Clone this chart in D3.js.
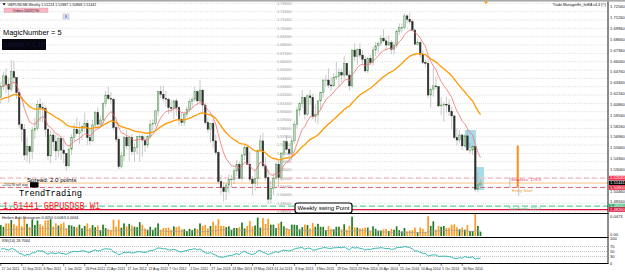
<!DOCTYPE html>
<html lang="en">
<head>
<meta charset="UTF-8" />
<title>GBPUSDSB Weekly</title>
<script src="https://d3js.org/d3.v7.min.js"></script>
<style>
  body { margin:0; padding:0; background:#fff; }
  svg { display:block; font-family:"Liberation Sans", Arial, sans-serif; }
</style>
</head>
<body>
<svg width="625" height="272"></svg>
<script>
// weekly bars, first bar = week of 17 Jul 2011, last = week of 18 Jan 2015
const firstOpen = 1.6170;
const closes = [
  1.6300,1.6430,1.6330,1.6270,1.6480,1.6410,1.6230,1.5850,1.5790,1.5480,
  1.5580,1.5520,1.5780,1.5800,1.6090,1.6050,1.6040,1.5790,1.5470,1.5720,
  1.5640,1.5530,1.5680,1.5540,1.5500,1.5350,1.5550,1.5690,1.5790,1.5740,
  1.5770,1.5820,1.5860,1.5690,1.5650,1.5840,1.5990,1.5850,1.5900,1.6100,
  1.6200,1.6160,1.6150,1.5810,1.5670,1.5340,1.5470,1.5690,1.5590,1.5690,
  1.5520,1.5570,1.5700,1.5700,1.5660,1.5600,1.5700,1.5850,1.5860,1.6010,
  1.6240,1.6210,1.6160,1.6150,1.6050,1.6040,1.6130,1.6050,1.5910,1.5870,
  1.5970,1.6030,1.6120,1.6150,1.6240,1.6130,1.6260,1.6080,1.5870,1.5790,
  1.5860,1.5650,1.5510,1.5160,1.5090,1.5040,1.5120,1.5190,1.5190,1.5290,
  1.5370,1.5200,1.5480,1.5570,1.5370,1.5190,1.5140,1.5200,1.5530,1.5650,
  1.5350,1.5210,1.4950,1.5080,1.5200,1.5370,1.5210,1.5500,1.5640,1.5550,
  1.5500,1.5650,1.5850,1.6020,1.6100,1.6170,1.5970,1.6190,1.6170,1.5940,
  1.5970,1.6130,1.6230,1.6380,1.6380,1.6320,1.6310,1.6410,1.6420,1.6470,
  1.6440,1.6580,1.6440,1.6310,1.6740,1.6660,1.6750,1.6680,1.6630,1.6490,
  1.6640,1.6590,1.6740,1.6790,1.6820,1.6880,1.6850,1.6800,1.6830,1.6750,
  1.6800,1.6960,1.7010,1.7010,1.7150,1.7110,1.7080,1.6980,1.6810,1.6830,
  1.6690,1.6590,1.6580,1.6200,1.6270,1.6310,1.6300,1.6070,1.6080,1.6090,
  1.6080,1.6000,1.5950,1.5690,1.5660,1.5720,1.5590,1.5710,1.5540,1.5540,
  1.5580,1.5070,1.51224,1.51441
];
const highs = [
  1.6360,1.6480,1.6520,1.6410,1.6620,1.6610,1.6400,1.6230,1.5870,1.5850,
  1.5690,1.5590,1.5820,1.5930,1.6140,1.6160,1.6110,1.6070,1.5800,1.5780,
  1.5760,1.5720,1.5700,1.5710,1.5700,1.5470,1.5590,1.5730,1.5860,1.5930,
  1.5880,1.5840,1.5990,1.5900,1.5790,1.5900,1.6010,1.6050,1.5950,1.6110,
  1.6250,1.6300,1.6240,1.6170,1.5850,1.5700,1.5520,1.5710,1.5780,1.5700,
  1.5730,1.5620,1.5700,1.5730,1.5730,1.5700,1.5720,1.5900,1.5910,1.6020,
  1.6250,1.6310,1.6310,1.6250,1.6170,1.6140,1.6140,1.6160,1.6060,1.5990,
  1.5990,1.6060,1.6160,1.6180,1.6300,1.6260,1.6380,1.6230,1.6110,1.5930,
  1.5870,1.5900,1.5730,1.5530,1.5240,1.5160,1.5150,1.5250,1.5240,1.5320,
  1.5420,1.5400,1.5490,1.5600,1.5600,1.5520,1.5230,1.5300,1.5550,1.5720,
  1.5750,1.5460,1.5300,1.5170,1.5270,1.5390,1.5400,1.5510,1.5660,1.5720,
  1.5580,1.5690,1.5890,1.6060,1.6110,1.6260,1.6180,1.6210,1.6260,1.6220,
  1.6090,1.6140,1.6240,1.6390,1.6440,1.6520,1.6420,1.6460,1.6600,1.6520,
  1.6510,1.6670,1.6580,1.6490,1.6750,1.6820,1.6760,1.6820,1.6740,1.6670,
  1.6660,1.6680,1.6780,1.6840,1.6840,1.6920,1.6990,1.6900,1.6920,1.6860,
  1.6840,1.6990,1.7060,1.7060,1.7180,1.7170,1.7190,1.7110,1.7000,1.6880,
  1.6850,1.6740,1.6630,1.6630,1.6290,1.6530,1.6420,1.6290,1.6180,1.6120,
  1.6180,1.6150,1.6060,1.5950,1.5800,1.5780,1.5740,1.5730,1.5790,1.5620,
  1.5600,1.5590,1.5270,1.51887
];
const lows = [
  1.6100,1.6260,1.6220,1.6110,1.6240,1.6330,1.6160,1.5800,1.5640,1.5420,
  1.5400,1.5380,1.5430,1.5670,1.5770,1.5880,1.5870,1.5700,1.5420,1.5380,
  1.5530,1.5420,1.5450,1.5420,1.5380,1.5290,1.5330,1.5480,1.5640,1.5720,
  1.5610,1.5660,1.5750,1.5600,1.5600,1.5640,1.5800,1.5800,1.5810,1.5840,
  1.6060,1.6140,1.6090,1.5780,1.5630,1.5310,1.5320,1.5410,1.5550,1.5410,
  1.5480,1.5400,1.5490,1.5400,1.5460,1.5520,1.5570,1.5680,1.5760,1.5820,
  1.5950,1.6160,1.6120,1.6060,1.5970,1.5990,1.5910,1.5950,1.5830,1.5830,
  1.5830,1.5940,1.5990,1.6040,1.6120,1.6090,1.6080,1.5990,1.5850,1.5750,
  1.5630,1.5560,1.5480,1.5130,1.5000,1.4920,1.4940,1.5020,1.5090,1.5130,
  1.5230,1.5190,1.5170,1.5420,1.5360,1.5160,1.5000,1.5050,1.5110,1.5520,
  1.5320,1.5170,1.4890,1.4900,1.5000,1.5200,1.5100,1.5170,1.5430,1.5530,
  1.5420,1.5420,1.5620,1.5800,1.5950,1.6050,1.5910,1.5950,1.6080,1.5910,
  1.5870,1.5850,1.6020,1.6170,1.6300,1.6280,1.6250,1.6300,1.6380,1.6300,
  1.6350,1.6390,1.6430,1.6250,1.6290,1.6610,1.6560,1.6640,1.6560,1.6470,
  1.6460,1.6560,1.6550,1.6670,1.6710,1.6790,1.6830,1.6730,1.6800,1.6690,
  1.6690,1.6760,1.6920,1.6950,1.6990,1.7060,1.7060,1.6970,1.6800,1.6790,
  1.6650,1.6570,1.6530,1.6160,1.6050,1.6180,1.6270,1.6050,1.5960,1.5880,
  1.5990,1.5950,1.5790,1.5670,1.5590,1.5620,1.5540,1.5580,1.5530,1.5500,
  1.5480,1.5040,1.5030,1.50868
];
const dateLabels = [
  "17 Jul 2011","11 Sep 2011","6 Nov 2011","1 Jan 2012","26 Feb 2012","22 Apr 2012",
  "17 Jun 2012","12 Aug 2012","7 Oct 2012","2 Dec 2012","27 Jan 2013","24 Mar 2013",
  "19 May 2013","14 Jul 2013","8 Sep 2013","3 Nov 2013","29 Dec 2013","23 Feb 2014",
  "20 Apr 2014","15 Jun 2014","10 Aug 2014","5 Oct 2014","30 Nov 2014"
];
const roundLevels = [1.73,1.72,1.71,1.70,1.69,1.68,1.67,1.66,1.65,1.64,1.63,1.62,1.61,
  1.60,1.59,1.58,1.57,1.56,1.55,1.54,1.53,1.52,1.51,1.50,1.49,1.48];
const priceTicks = [1.72560,1.71260,1.69960,1.68660,1.67360,1.66060,1.64760,1.63460,
  1.62160,1.60860,1.59560,1.58260,1.56960,1.55660,1.54360,1.53060,1.50460,1.49160];
// stoploss, bid, entry, takeprofit, swing low
const tradeLevels = [1.52040, 1.51441, 1.50900, 1.48680, 1.48260];
const tradeZones = [[177, 181.3, 1.5780, 1.5564], [181.3, 184.3, 1.5336, 1.5060]];
const rsiLevels = [70, 50, 30];
const rsiTicks = [100, 70, 50, 30, 0];
const redSeed = 1.6290, orangeSeed = 1.6134;
const rsiSeedGain = 0.0060, rsiSeedLoss = 0.0049;

const svg = d3.select("svg");
const plotRight = 608, mainTop = 2, mainBottom = 213.5, histBottom = 237.5, rsiBottom = 263.5;
const n = closes.length;
const opens = closes.map((c, i) => i === 0 ? firstOpen : closes[i - 1]);
opens[n - 1] = 1.51224;

const x = d3.scaleLinear().domain([0, n - 1]).range([0.8, 480.5]);
const y = d3.scaleLinear().domain([1.48, 1.73]).range([211.7, 3.4]);

function ema(vals, period, seed) {
  const a = 2 / (period + 1); let e = seed;
  return vals.map(v => (e = e + a * (v - e)));
}
const redMA = ema(closes, 10, redSeed);
const orangeMA = ema(closes, 34, orangeSeed);

// top strip
svg.append("rect").attr("x", 0).attr("y", 0).attr("width", 625).attr("height", 1.6).attr("fill", "#a8a8a8");

svg.append("clipPath").attr("id", "mainClip").append("rect")
  .attr("x", 0).attr("y", mainTop).attr("width", plotRight).attr("height", mainBottom - mainTop);
const main = svg.append("g").attr("clip-path", "url(#mainClip)");

// round-number grid
main.selectAll(".grid").data(roundLevels).enter().append("line")
  .attr("x1", 0).attr("x2", plotRight).attr("y1", d => y(d)).attr("y2", d => y(d))
  .attr("stroke", "#c4c4c4").attr("stroke-width", 0.6).attr("stroke-dasharray", "1,1.3");
main.selectAll(".glab").data(roundLevels).enter().append("text")
  .attr("x", 277).attr("y", d => y(d) + 1.4).text(d => d.toFixed(5))
  .attr("font-size", 4).attr("fill", "#9a9a9a");

// zones
main.selectAll(".zone").data(tradeZones).enter().append("rect")
  .attr("x", d => x(d[0])).attr("width", d => x(d[1]) - x(d[0]))
  .attr("y", d => y(d[2])).attr("height", d => y(d[3]) - y(d[2]))
  .attr("fill", "#9fd6e6").attr("opacity", 0.9);

// trade level lines
const levelStyle = [
  { c: "#f7c4cc", w: 1.6, dash: "5,3" },
  { c: "#f8c080", w: 1, dash: null },
  { c: "#e2687a", w: 1, dash: "5,3" },
  { c: "#5ccf98", w: 1.2, dash: "6,3" },
  { c: "#e0143c", w: 1.2, dash: null }
];
tradeLevels.forEach((p, i) => {
  main.append("line").attr("x1", 0).attr("x2", plotRight).attr("y1", y(p)).attr("y2", y(p))
    .attr("stroke", levelStyle[i].c).attr("stroke-width", levelStyle[i].w)
    .attr("stroke-dasharray", levelStyle[i].dash);
});

// candles
const cw = 1.6;
const candle = main.selectAll(".c").data(closes).enter().append("g");
candle.append("line")
  .attr("x1", (d, i) => x(i)).attr("x2", (d, i) => x(i))
  .attr("y1", (d, i) => y(Math.max(highs[i], d, opens[i])))
  .attr("y2", (d, i) => y(Math.min(lows[i], d, opens[i])))
  .attr("stroke", "#a6a6a6").attr("stroke-width", 0.6);
candle.append("rect")
  .attr("x", (d, i) => x(i) - cw / 2).attr("width", cw)
  .attr("y", (d, i) => y(Math.max(d, opens[i])))
  .attr("height", (d, i) => Math.max(0.6, Math.abs(y(d) - y(opens[i]))))
  .attr("fill", (d, i) => d >= opens[i] ? "#d0d0d0" : "#2e2e2e")
  .attr("stroke", (d, i) => d >= opens[i] ? "#3c9a3c" : "#2e2e2e")
  .attr("stroke-width", 0.45);

// moving averages
const maLine = d3.line().x((d, i) => x(i)).y(d => y(d));
main.append("path").datum(orangeMA).attr("d", maLine).attr("fill", "none")
  .attr("stroke", "#ff9900").attr("stroke-width", 1.3);
main.append("path").datum(redMA).attr("d", maLine).attr("fill", "none")
  .attr("stroke", "#f07070").attr("stroke-width", 0.8);

// trade manager objects to the right of the last bar
main.append("line").attr("x1", x(197.2)).attr("x2", x(197.2))
  .attr("y1", y(1.5594)).attr("y2", y(1.5090)).attr("stroke", "#ff8c10").attr("stroke-width", 2);
main.append("line").attr("x1", x(194.2)).attr("x2", x(194.2))
  .attr("y1", y(1.5216)).attr("y2", y(1.5084)).attr("stroke", "#999").attr("stroke-width", 0.6);
main.append("line").attr("x1", x(197.6)).attr("x2", x(197.6))
  .attr("y1", y(1.5114)).attr("y2", y(1.4990)).attr("stroke", "#999").attr("stroke-width", 0.6);
main.append("text").attr("x", 511).attr("y", y(1.5204) + 3.3).text("Stoploss: 176.5")
  .attr("font-size", 4.4).attr("fill", "#e0405a");
main.append("text").attr("x", 512).attr("y", y(1.5090) + 4.6).text("Entry Start")
  .attr("font-size", 4.4).attr("fill", "#f0a030");
main.append("text").attr("x", 508).attr("y", y(1.4868) + 4).text("TakeProfit: 221.5")
  .attr("font-size", 4.4).attr("fill", "#40c080");

// histogram panel
const ranges = closes.map((c, i) => highs[i] - lows[i]);
const rangeAvg = ranges.map((v, i) => d3.mean(ranges.slice(Math.max(0, i - 9), i + 1)));
const hy = d3.scaleLinear().domain([0, 0.05]).range([236, 215]);
svg.selectAll(".hb").data(ranges).enter().append("rect")
  .attr("x", (d, i) => x(i) - 0.85).attr("width", 1.7)
  .attr("y", d => hy(d)).attr("height", d => hy(0) - hy(d))
  .attr("fill", (d, i) => closes[i] >= opens[i] ? "#237a23" : "#ff9a22");
svg.append("path").datum(rangeAvg)
  .attr("d", d3.line().x((d, i) => x(i)).y(d => hy(d * 0.55)))
  .attr("fill", "none").attr("stroke", "#a0a0a0").attr("stroke-width", 0.7);

// RSI panel
const ry = d3.scaleLinear().domain([0, 100]).range([264, 239]);
let ag = rsiSeedGain, al = rsiSeedLoss;
const rsi = closes.map((c, i) => {
  const dlt = c - opens[i];
  ag = (ag * 13 + Math.max(dlt, 0)) / 14;
  al = (al * 13 + Math.max(-dlt, 0)) / 14;
  return 100 - 100 / (1 + ag / al);
});
svg.selectAll(".rl").data(rsiLevels).enter().append("line")
  .attr("x1", 0).attr("x2", plotRight).attr("y1", d => ry(d)).attr("y2", d => ry(d))
  .attr("stroke", "#9a9a9a").attr("stroke-width", 0.6).attr("stroke-dasharray", "1,1");
svg.append("path").datum(rsi)
  .attr("d", d3.line().x((d, i) => x(i)).y(d => ry(d)))
  .attr("fill", "none").attr("stroke", "#20b2aa").attr("stroke-width", 0.9);

// panel borders
[mainBottom, histBottom, rsiBottom].forEach(v => {
  svg.append("line").attr("x1", 0).attr("x2", plotRight + 0.5).attr("y1", v).attr("y2", v)
    .attr("stroke", "#000").attr("stroke-width", 1.1);
});
svg.append("line").attr("x1", plotRight).attr("x2", plotRight).attr("y1", 1.6).attr("y2", rsiBottom)
  .attr("stroke", "#000").attr("stroke-width", 0.9);

// right price axis
svg.selectAll(".pt").data(priceTicks).enter().append("text")
  .attr("x", 610).attr("y", d => y(d) + 1.4).text(d => d.toFixed(5))
  .attr("font-size", 4.1).attr("fill", "#222");
const levelLabel = ["#ff3050", "#000", "#e8283c", "#2fb070", "#e0143c"];
tradeLevels.forEach((p, i) => {
  const g = svg.append("g");
  g.append("rect").attr("x", 609).attr("y", y(p) - 2.3).attr("width", 16).attr("height", 4.6)
    .attr("fill", levelLabel[i]);
  g.append("text").attr("x", 610).attr("y", y(p) + 1.4).text(p.toFixed(5))
    .attr("font-size", 4.1).attr("fill", "#fff");
});
svg.append("text").attr("x", 610).attr("y", 218).text("0.0473").attr("font-size", 4.1).attr("fill", "#222");
svg.append("text").attr("x", 610).attr("y", 236).text("0.00").attr("font-size", 4.1).attr("fill", "#222");
svg.selectAll(".rt").data(rsiTicks).enter().append("text")
  .attr("x", 610).attr("y", d => ry(d) + 1.4).text(d => d)
  .attr("font-size", 4.1).attr("fill", "#222");

// date axis
dateLabels.forEach((t, k) => {
  const xi = x(k * 8);
  svg.append("line").attr("x1", xi).attr("x2", xi).attr("y1", rsiBottom).attr("y2", rsiBottom + 2.5)
    .attr("stroke", "#000").attr("stroke-width", 0.5);
  svg.append("text").attr("x", xi + 0.8).attr("y", 270).text(t)
    .attr("font-size", 3.5).attr("fill", "#222");
});

// panel captions
svg.append("text").attr("x", 2).attr("y", 218.5).text("Heiken Ashi Histogram 0.0050 0.0063 0.0064")
  .attr("font-size", 3.8).attr("fill", "#222");
svg.append("text").attr("x", 2).attr("y", 241.5).text("RSI(14) 28.7064")
  .attr("font-size", 3.8).attr("fill", "#222");

// header and top-left objects
svg.append("path").attr("d", "M2.5,3.3 L5.7,3.3 L4.1,5.5 Z").attr("fill", "#000");
svg.append("text").attr("x", 7.5).attr("y", 5.6)
  .text("GBPUSDSB,Weekly  1.51224 1.51887 1.50868 1.51441").attr("font-size", 3.6).attr("fill", "#111");
svg.append("rect").attr("x", 4).attr("y", 8).attr("width", 44).attr("height", 4.5)
  .attr("fill", "#ffb3c2").attr("stroke", "#9a9a9a").attr("stroke-width", 0.3);
svg.append("text").attr("x", 26).attr("y", 11.5).attr("text-anchor", "middle")
  .text("Orders 20431790").attr("font-size", 3.4).attr("fill", "#223");
svg.append("rect").attr("x", 63).attr("y", 14).attr("width", 6).attr("height", 5)
  .attr("fill", "#e4e8f4").attr("stroke", "#8a9ac0").attr("stroke-width", 0.4);
svg.append("text").attr("x", 66).attr("y", 17.8).attr("text-anchor", "middle")
  .text("B").attr("font-size", 3.6).attr("fill", "#3050a0");
svg.append("text").attr("x", 3).attr("y", 35).text("MagicNumber = 5")
  .attr("font-size", 7.4).attr("fill", "#000");
svg.append("rect").attr("x", 2).attr("y", 39).attr("width", 44).attr("height", 11).attr("fill", "#05050e");
svg.append("text").attr("x", 4).attr("y", 47.3).text("Lotsize = 0.10")
  .attr("font-size", 6.5).attr("fill", "#15153e");
svg.append("text").attr("x", 606).attr("y", 5.6).attr("text-anchor", "end")
  .text("Trade ManagerEs_forEA v4.4 (\u00a9)").attr("font-size", 3.6).attr("fill", "#111");
svg.append("path").attr("d", "M484,1.6 L488,1.6 L486,4.2 Z").attr("fill", "#ff9900");

// left-bottom labels
svg.append("text").attr("x", 27).attr("y", 182.3).text("Spread: 2.0 points")
  .attr("font-size", 6.1).attr("fill", "#000");
svg.append("rect").attr("x", 30).attr("y", 182.2).attr("width", 8.5).attr("height", 5.3).attr("fill", "#000");
svg.append("text").attr("x", 2).attr("y", 185.6).text("+2#0278 sell stop")
  .attr("font-size", 3.3).attr("fill", "#222");
svg.append("text").attr("x", 19).attr("y", 195.6).text("TrendTrading")
  .attr("font-family", "Liberation Mono, monospace").attr("font-size", 9)
  .attr("textLength", 63).attr("lengthAdjust", "spacingAndGlyphs").attr("fill", "#000");
svg.append("text").attr("x", 3).attr("y", 209.3).text("1.51441 GBPUSDSB W1")
  .attr("font-family", "Liberation Mono, monospace").attr("font-size", 10)
  .attr("textLength", 97).attr("lengthAdjust", "spacingAndGlyphs").attr("fill", "#ff2020");

// swing point callout
svg.append("rect").attr("x", 295).attr("y", 203).attr("width", 57).attr("height", 10).attr("rx", 2.5)
  .attr("fill", "#fff").attr("stroke", "#000").attr("stroke-width", 1.2);
svg.append("text").attr("x", 323.5).attr("y", 210.3).attr("text-anchor", "middle")
  .text("Weekly swing Point").attr("font-size", 6).attr("fill", "#000");
</script>
</body>
</html>
